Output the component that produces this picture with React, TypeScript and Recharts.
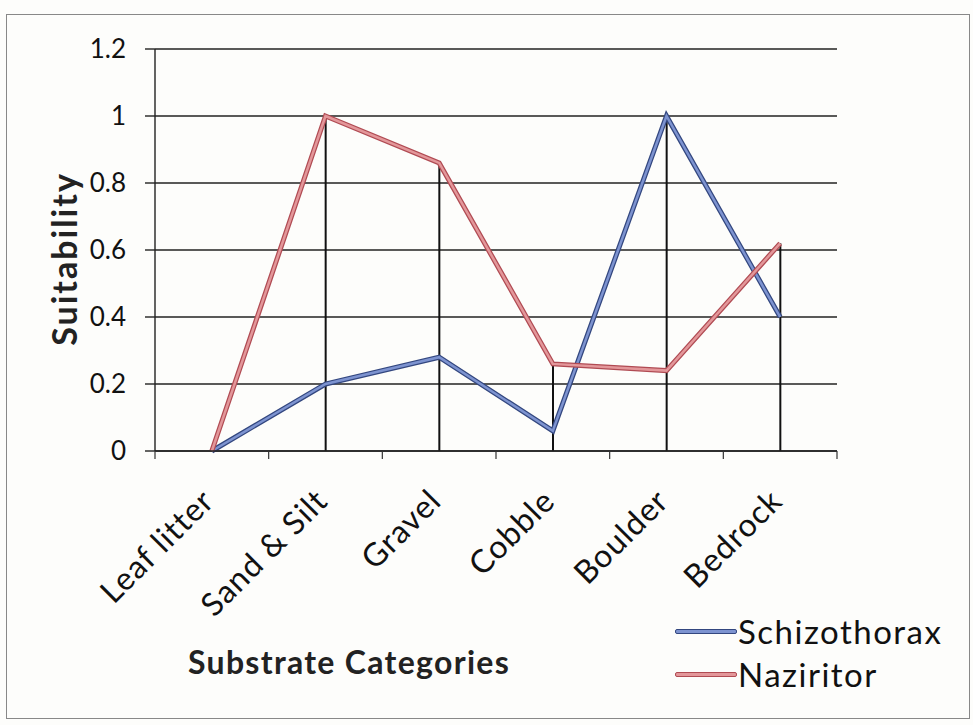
import { Bar, CartesianGrid, ComposedChart, Line, XAxis, YAxis } from "recharts";

document.body.style.margin = "0";

const CATEGORIES = ["Leaf litter", "Sand & Silt", "Gravel", "Cobble", "Boulder", "Bedrock"];
const SCHIZOTHORAX = [0, 0.2, 0.28, 0.06, 1.0, 0.4];
const NAZIRITOR = [0, 1.0, 0.86, 0.26, 0.24, 0.62];
const Y_TICKS = [0, 0.2, 0.4, 0.6, 0.8, 1, 1.2];

// category i sits in the middle of [i, i+1]; integer ticks mark the boundaries
const X_TICKS = Array.from({ length: CATEGORIES.length * 2 + 1 }, (_, i) => i / 2);

const data = CATEGORIES.map((name, i) => ({
  pos: i + 0.5,
  name,
  schizo: SCHIZOTHORAX[i],
  nazir: NAZIRITOR[i],
  drop: Math.max(SCHIZOTHORAX[i], NAZIRITOR[i]),
}));

const FONT = "Lato, 'Open Sans', sans-serif";
const BLUE = "#7d93d0";
const BLUE_EDGE = "#33477f";
const RED = "#e3979a";
const RED_EDGE = "#b04b53";

function XTick(props: any) {
  const { x, y, payload } = props;
  const v = payload.value as number;
  if (Number.isInteger(v)) {
    return <line x1={x} x2={x} y1={y - 8} y2={y} stroke="#333" strokeWidth={1.2} />;
  }
  const tx = x + 4;
  const ty = y + 44;
  return (
    <text
      x={tx}
      y={ty}
      textAnchor="end"
      transform={`rotate(-45 ${tx} ${ty})`}
      fill="#111"
      fontSize={32}
      letterSpacing={1}
      fontFamily={FONT}
    >
      {CATEGORIES[Math.floor(v)]}
    </text>
  );
}

function LegendRow({ color, edge, label }: { color: string; edge: string; label: string }) {
  return (
    <div style={{ display: "flex", alignItems: "center", height: 43 }}>
      <div
        style={{
          width: 60,
          height: 3,
          background: color,
          border: `1px solid ${edge}`,
          borderRadius: 2,
        }}
      />
      <span style={{ fontSize: 33, letterSpacing: 1.5, color: "#111", marginLeft: 1, lineHeight: "43px" }}>
        {label}
      </span>
    </div>
  );
}

export default function App() {
  return (
    <div
      style={{
        position: "relative",
        width: 973,
        height: 725,
        background: "#fdfdfb",
        fontFamily: FONT,
        overflow: "hidden",
      }}
    >
      <div
        style={{
          position: "absolute",
          left: 6,
          top: 14,
          width: 962,
          height: 703,
          border: "1px solid #888",
        }}
      />
      <ComposedChart
        width={973}
        height={725}
        data={data}
        margin={{ top: 49, right: 136, left: 0, bottom: 214 }}
        style={{ position: "absolute", left: 0, top: 0 }}
      >
        <CartesianGrid vertical={false} stroke="#222" strokeWidth={1.6} />
        <XAxis
          dataKey="pos"
          type="number"
          domain={[0, CATEGORIES.length]}
          ticks={X_TICKS}
          interval={0}
          height={60}
          axisLine={{ stroke: "#222", strokeWidth: 1.6 }}
          tickLine={false}
          tickSize={8}
          tickMargin={0}
          tick={<XTick />}
        />
        <YAxis
          width={155}
          domain={[0, 1.2]}
          ticks={Y_TICKS}
          interval={0}
          axisLine={{ stroke: "#222", strokeWidth: 1.4 }}
          tickLine={{ stroke: "#222", strokeWidth: 1.4 }}
          tickSize={10}
          tickMargin={19}
          tick={{ fill: "#111", fontSize: 26, fontFamily: FONT }}
        />
        <Bar dataKey="drop" barSize={2} fill="#111" isAnimationActive={false} />
        <Line dataKey="schizo" stroke={BLUE_EDGE} strokeWidth={5} dot={false} isAnimationActive={false} />
        <Line dataKey="schizo" stroke={BLUE} strokeWidth={2.5} dot={false} isAnimationActive={false} />
        <Line dataKey="nazir" stroke={RED_EDGE} strokeWidth={5} dot={false} isAnimationActive={false} />
        <Line dataKey="nazir" stroke={RED} strokeWidth={2.5} dot={false} isAnimationActive={false} />
      </ComposedChart>
      <div
        style={{
          position: "absolute",
          left: 64,
          top: 259,
          transform: "translate(-50%, -50%) rotate(-90deg)",
          fontSize: 34,
          letterSpacing: 2,
          fontWeight: 700,
          color: "#222",
          whiteSpace: "nowrap",
          lineHeight: "34px",
        }}
      >
        Suitability
      </div>
      <div
        style={{
          position: "absolute",
          left: 188,
          top: 646,
          fontSize: 32,
          letterSpacing: 1.3,
          fontWeight: 700,
          color: "#222",
          whiteSpace: "nowrap",
          lineHeight: "32px",
        }}
      >
        Substrate Categories
      </div>
      <div style={{ position: "absolute", left: 675, top: 610 }}>
        <LegendRow color={BLUE} edge={BLUE_EDGE} label="Schizothorax" />
        <LegendRow color={RED} edge={RED_EDGE} label="Naziritor" />
      </div>
    </div>
  );
}
